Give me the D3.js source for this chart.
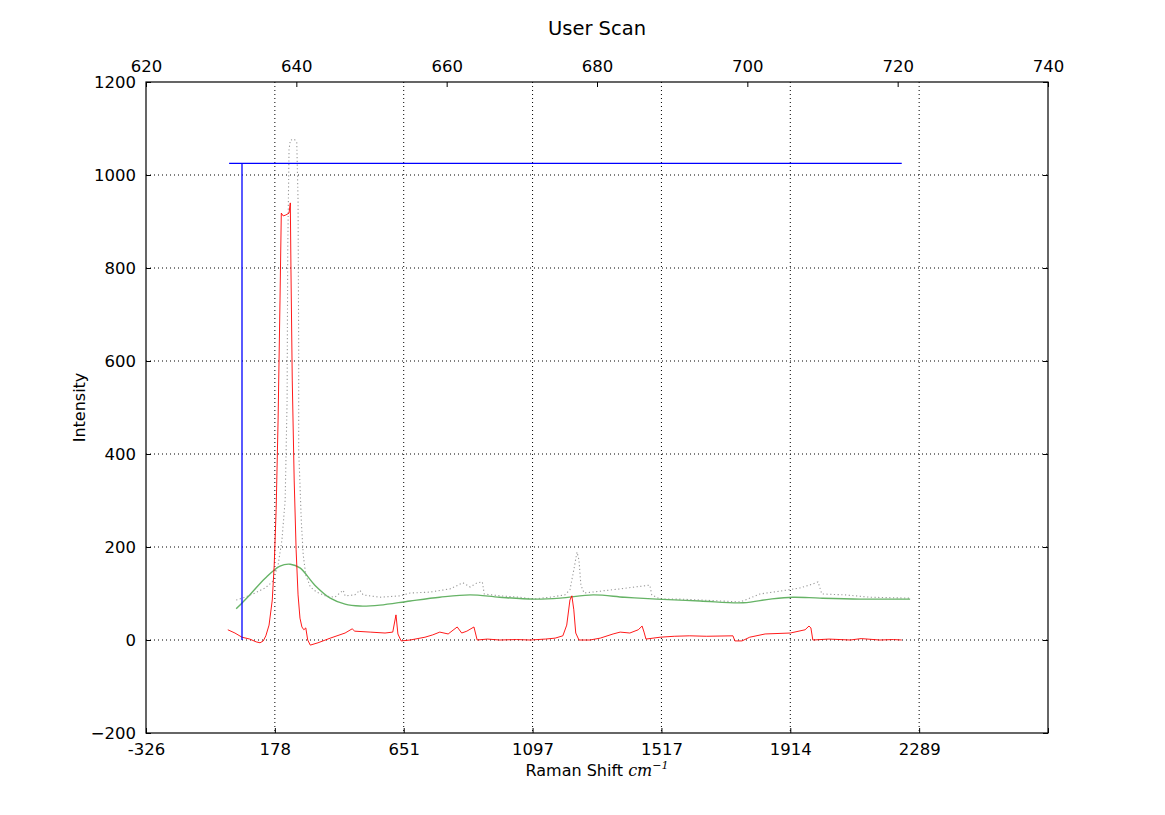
<!DOCTYPE html>
<html>
<head>
<meta charset="utf-8">
<script src="https://cdn.jsdelivr.net/npm/d3@7"></script>
<style>
  body { margin: 0; background: #fff; }
  svg { display: block; font-family: "DejaVu Sans", sans-serif; }
</style>
</head>
<body>
<svg id="chart" width="1165" height="815"></svg>
<script>
// ---- data (x in detector pixel index, y in intensity) ----
const pixelTicks = [0, 200, 400, 600, 800, 1000, 1200, 1400];
const ramanLabels = ["-326", "178", "651", "1097", "1517", "1914", "2289", ""];
const wavelengthTicks = [620, 640, 660, 680, 700, 720, 740];
const intensityTicks = [-200, 0, 200, 400, 600, 800, 1000, 1200];

const correctedX = [127,138,149,161,171,177,182,186,191,196,199,202,205,208,210,213,217,222,224,225,227,230,233,236,239,242,245,248,251,255,267,286,309,320,324,348,371,383,388,391,396,410,433,445,456,469,483,490,498,509,514,530,549,575,596,620,635,647,653,658,661,664,667,672,689,705,725,736,751,764,770,773,776,798,820,844,870,911,914,925,937,961,1000,1023,1029,1032,1035,1060,1093,1110,1139,1160,1173];
const correctedY = [22,15,6,2,-4,-6,-2,9,32,86,161,280,473,731,918,912,914,918,940,796,559,344,194,97,47,28,22,26,0,-11,-6,4,15,24,19,17,15,17,54,13,-2,0,6,11,17,13,28,15,19,28,0,2,0,1,0,2,4,9,32,86,95,65,15,0,0,4,13,17,15,22,30,17,2,6,8,9,8,9,-2,-2,6,13,15,22,30,26,0,2,0,3,0,1,0];

const baselineX = [140,161,185,208,224,239,262,286,309,332,363,410,456,503,549,601,643,694,743,793,860,927,969,1004,1046,1108,1186];
const baselineY = [67,97,133,159,163,155,118,90,77,73,75,84,92,97,92,88,90,97,92,88,84,80,88,92,90,88,88];

const rawX = [140,154,169,185,196,205,211,216,219,220,222,224,230,234,236,237,237,241,244,248,255,265,278,293,306,309,324,332,337,363,394,410,441,472,492,503,514,522,525,549,580,601,627,650,658,664,669,672,675,680,705,736,759,782,785,798,829,860,891,922,930,953,984,1015,1034,1043,1049,1085,1124,1186];
const rawY = [86,92,101,112,125,161,215,301,516,839,1054,1075,1077,1071,946,624,409,258,183,140,114,103,95,92,107,95,97,107,97,92,95,101,103,110,123,114,123,125,99,95,92,88,92,97,108,151,189,172,118,101,105,110,114,118,97,88,88,86,84,82,86,99,105,112,120,125,99,97,92,90];

const markerPixel = 149;
const markerLevel = 1025;
const markerSpan = [129, 1173];

// ---- layout ----
const svg = d3.select("#chart");
const L = 146, R = 1048, T = 82, B = 733;

const x = d3.scaleLinear().domain([0, 1400]).range([L, R]);
const xTop = d3.scaleLinear().domain([620, 740]).range([L, R]);
const y = d3.scaleLinear().domain([-200, 1200]).range([B, T]);

const fs = 16.5;

// grid
const grid = svg.append("g");
pixelTicks.forEach(v => {
  if (v === 0 || v === 1400) return;
  grid.append("line").attr("x1", x(v)).attr("x2", x(v)).attr("y1", T).attr("y2", B)
    .attr("stroke", "#000").attr("stroke-width", 1).attr("stroke-dasharray", "1,3");
});
intensityTicks.forEach(v => {
  if (v === -200 || v === 1200) return;
  grid.append("line").attr("x1", L).attr("x2", R).attr("y1", y(v)).attr("y2", y(v))
    .attr("stroke", "#000").attr("stroke-width", 1).attr("stroke-dasharray", "1,3");
});

// clip
svg.append("clipPath").attr("id", "clip").append("rect")
  .attr("x", L).attr("y", T).attr("width", R - L).attr("height", B - T);
const plot = svg.append("g").attr("clip-path", "url(#clip)");

const line = (xs, ys, curve) => d3.line().curve(curve || d3.curveLinear)
  .x((d, i) => x(xs[i])).y((d, i) => y(ys[i]))(xs);

// raw dotted spectrum
plot.append("path").attr("d", line(rawX, rawY))
  .attr("fill", "none").attr("stroke", "#999").attr("stroke-width", 1.1)
  .attr("stroke-dasharray", "1.2,2.5");

// smooth baseline
plot.append("path").attr("d", line(baselineX, baselineY, d3.curveCatmullRom))
  .attr("fill", "none").attr("stroke", "#66b366").attr("stroke-width", 1.4);

// corrected spectrum
plot.append("path").attr("d", line(correctedX, correctedY))
  .attr("fill", "none").attr("stroke", "#ff0000").attr("stroke-width", 0.9);

// blue marker lines
plot.append("line").attr("x1", x(markerSpan[0])).attr("x2", x(markerSpan[1]))
  .attr("y1", y(markerLevel)).attr("y2", y(markerLevel))
  .attr("stroke", "#0000ff").attr("stroke-width", 1.3);
plot.append("line").attr("x1", x(markerPixel)).attr("x2", x(markerPixel))
  .attr("y1", y(0)).attr("y2", y(markerLevel))
  .attr("stroke", "#0000ff").attr("stroke-width", 1.3);

// axes
const axBottom = d3.axisBottom(x).tickValues(pixelTicks)
  .tickFormat((d, i) => ramanLabels[i]).tickSizeInner(-5).tickSizeOuter(0).tickPadding(10);
const axTop = d3.axisTop(xTop).tickValues(wavelengthTicks)
  .tickFormat(d3.format("d")).tickSizeInner(-5).tickSizeOuter(0).tickPadding(10);
const axLeft = d3.axisLeft(y).tickValues(intensityTicks)
  .tickFormat(d3.format("d")).tickSizeInner(-5).tickSizeOuter(0).tickPadding(10);
const axRight = d3.axisRight(y).tickValues(intensityTicks)
  .tickFormat("").tickSizeInner(-5).tickSizeOuter(0);

function styleAxis(g) {
  g.select(".domain").remove();
  g.selectAll(".tick line").attr("stroke", "#000").attr("stroke-width", 1);
  g.selectAll(".tick text").attr("fill", "#000").style("font-size", fs + "px")
    .style("font-family", "'DejaVu Sans', sans-serif");
}
svg.append("g").attr("transform", `translate(0,${B})`).call(axBottom).call(styleAxis);
svg.append("g").attr("transform", `translate(0,${T})`).call(axTop).call(styleAxis);
svg.append("g").attr("transform", `translate(${L},0)`).call(axLeft).call(styleAxis);
svg.append("g").attr("transform", `translate(${R},0)`).call(axRight).call(styleAxis);

// frame
svg.append("rect").attr("x", L).attr("y", T).attr("width", R - L).attr("height", B - T)
  .attr("fill", "none").attr("stroke", "#000").attr("stroke-width", 1.2);

// title & labels
svg.append("text").attr("x", (L + R) / 2).attr("y", 35).attr("text-anchor", "middle")
  .style("font-size", "19.5px").text("User Scan");

svg.append("text").attr("transform", `translate(85,${(T + B) / 2}) rotate(-90)`)
  .attr("text-anchor", "middle").style("font-size", "16px").text("Intensity");

const xl = svg.append("text").attr("x", (L + R) / 2).attr("y", 776)
  .attr("text-anchor", "middle").style("font-size", "16px");
xl.append("tspan").text("Raman Shift ");
xl.append("tspan").style("font-family", "'DejaVu Serif', serif").style("font-style", "italic").text("cm");
xl.append("tspan").attr("dy", -7).style("font-size", "11px")
  .style("font-family", "'DejaVu Serif', serif").style("font-style", "italic").text("\u22121");
</script>
</body>
</html>
